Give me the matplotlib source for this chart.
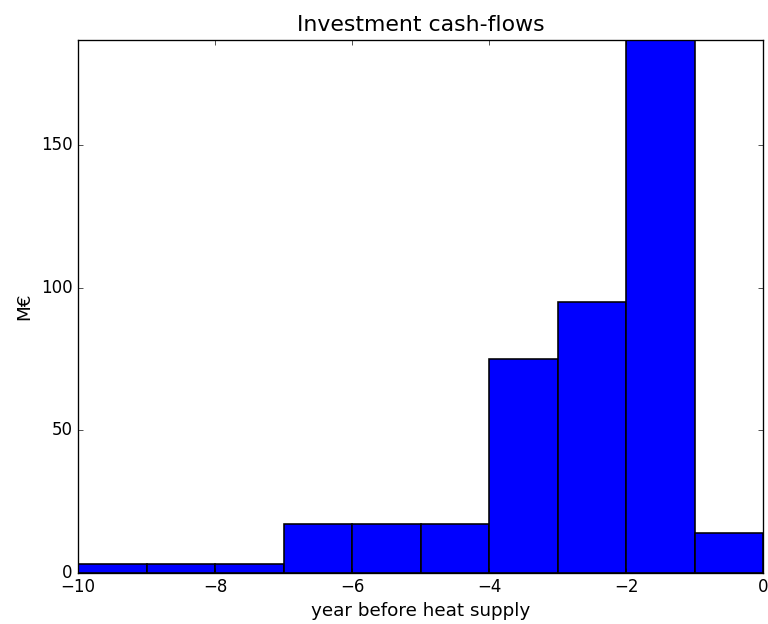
import matplotlib
matplotlib.use("Agg")
import matplotlib.pyplot as plt

plt.style.use("classic")

# Years before heat supply (left edge of each yearly bin) and investment per year
years = [-10, -9, -8, -7, -6, -5, -4, -3, -2, -1]
cashflows = [3, 3, 3, 17, 17, 17, 75, 95, 187, 14]

fig = plt.figure(figsize=(8, 6.5), dpi=96)
fig.patch.set_facecolor("white")
ax = fig.add_axes([78 / 768, 1 - 572.5 / 624, (763 - 78) / 768, (572.5 - 40) / 624])

ax.bar(years, cashflows, width=1.0, align="edge", color="b", edgecolor="k", linewidth=1.2)

ax.set_xlim(-10, 0)
ax.set_ylim(0, max(cashflows))
ax.set_xticks([-10, -8, -6, -4, -2, 0])
ax.set_yticks([0, 50, 100, 150])
ax.tick_params(labelsize=12.5)

ax.set_title("Investment cash-flows", fontsize=16.5, pad=7)
ax.set_xlabel("year before heat supply", fontsize=13.8, labelpad=5)
ax.set_ylabel("M€", fontsize=13.8, labelpad=6)

fig.savefig("out.png", dpi=96, facecolor="white")
